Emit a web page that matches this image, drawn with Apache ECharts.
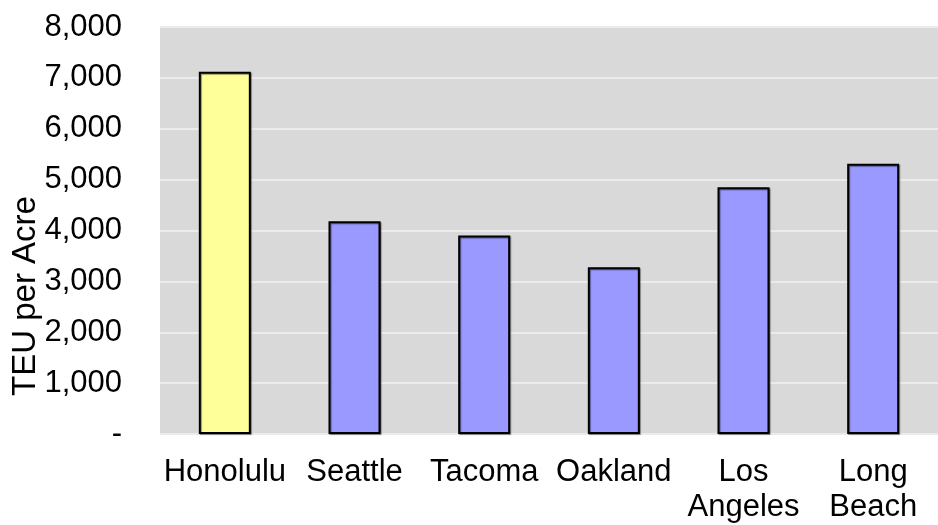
<!DOCTYPE html>
<html>
<head>
<meta charset="utf-8">
<script src="https://cdn.jsdelivr.net/npm/echarts@6/dist/echarts.min.js"></script>
<style>
  html, body { margin: 0; padding: 0; background: #ffffff; }
  #chart { width: 938px; height: 525px; }
</style>
</head>
<body>
<div id="chart"></div>
<script>
// Container-yard productivity by port
const ports = ['Honolulu', 'Seattle', 'Tacoma', 'Oakland', 'Los\nAngeles', 'Long\nBeach'];
const teuPerAcre = [7120, 4180, 3900, 3280, 4850, 5310];
const barColors = ['#ffff99', '#9999ff', '#9999ff', '#9999ff', '#9999ff', '#9999ff'];
const yTicks = [0, 1000, 2000, 3000, 4000, 5000, 6000, 7000, 8000];
const yTitle = 'TEU per Acre';

const fontFamily = '"Liberation Sans", Arial, sans-serif';

const chart = echarts.init(document.getElementById('chart'), null, { renderer: 'canvas' });

chart.setOption({
  animation: false,
  textStyle: { fontFamily: fontFamily },
  grid: {
    left: 160, top: 27, right: 0, bottom: 90,
    show: true, backgroundColor: '#d9d9d9', borderWidth: 0
  },
  xAxis: {
    type: 'category',
    data: ports,
    axisLine: { show: false },
    axisTick: { show: false },
    axisLabel: {
      margin: 21,
      fontSize: 31,
      lineHeight: 35,
      color: '#000000',
      fontFamily: fontFamily,
      interval: 0
    }
  },
  yAxis: {
    type: 'value',
    min: yTicks[0],
    max: yTicks[yTicks.length - 1],
    interval: 1000,
    axisLine: { show: false },
    axisTick: { show: false },
    splitLine: { show: true, lineStyle: { color: '#ebebeb', width: 2 } },
    axisLabel: {
      margin: 38,
      fontSize: 31,
      color: '#000000',
      fontFamily: fontFamily,
      formatter: function (v) {
        return v === 0 ? '-' : v.toLocaleString('en-US');
      }
    }
  },
  graphic: [{
    type: 'text',
    x: 26,
    y: 296,
    rotation: Math.PI / 2,
    style: {
      text: yTitle,
      fontSize: 33,
      fontFamily: fontFamily,
      fill: '#000000',
      align: 'center',
      verticalAlign: 'middle'
    }
  }],
  series: [{
    type: 'bar',
    barWidth: 52,
    data: teuPerAcre.map(function (v, i) {
      return { value: v, itemStyle: { color: barColors[i] } };
    }),
    itemStyle: {
      borderColor: '#000000',
      borderWidth: 2,
      shadowColor: 'rgba(0,0,0,0.45)',
      shadowOffsetX: 1,
      shadowOffsetY: 1,
      shadowBlur: 1
    }
  }]
});
</script>
</body>
</html>
